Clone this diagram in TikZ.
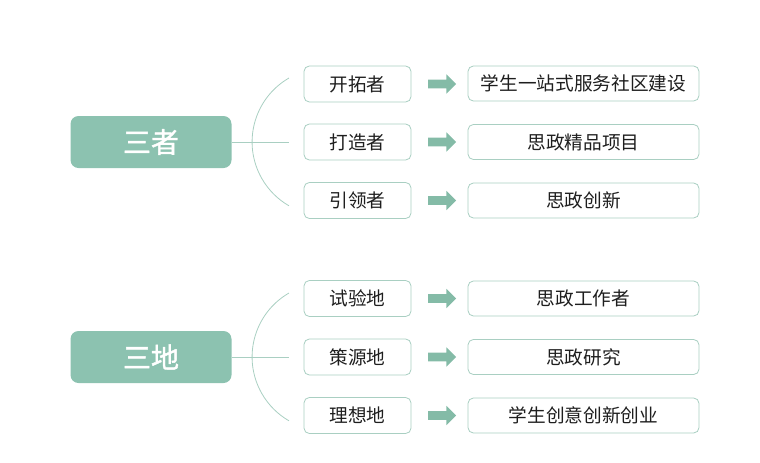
\documentclass[tikz,border=0pt]{standalone}
\usepackage{fontspec}
\usepackage{xcolor}
\usetikzlibrary{
    shapes.arrows,
    positioning,
    calc
}
\newfontfamily\cjk{Noto Sans CJK SC}
\newfontfamily\cjkbold[FakeBold=1.5]{Noto Sans CJK SC}
\definecolor{mint}{HTML}{8CC2B0}
\definecolor{mintarrow}{HTML}{84BBA7}
\definecolor{mintline}{HTML}{A9CFC2}
\definecolor{inkdark}{HTML}{1E1E1E}
\tikzset{
    % Topic box style
    topic/.style={
        rectangle,
        rounded corners=6pt,
        minimum width=120.75pt,
        minimum height=39pt,
        align=center,
        font=\cjkbold\fontsize{21}{24}\selectfont,
        text=white,
        fill=mint,
        draw=none
    },
    % Role box style
    role/.style={
        rectangle,
        rounded corners=4pt,
        minimum width=80.25pt,
        minimum height=27pt,
        align=center,
        font=\cjk\fontsize{14}{16}\selectfont,
        text=inkdark,
        draw=mintline,
        fill=white,
        line width=0.6pt
    },
    % Result box style
    result/.style={
        role,
        minimum width=173.25pt,
        minimum height=26.25pt
    },
    % Block arrow style
    pointer/.style={
        single arrow,
        fill=mintarrow,
        draw=none,
        inner xsep=0pt,
        inner ysep=3pt,
        minimum height=21pt,
        single arrow head extend=4.1pt,
        single arrow head indent=0pt
    },
    % Branch line style
    branch/.style={
        draw=mintline,
        line width=0.6pt
    }
}
\begin{document}
\begin{tikzpicture}[x=0.75pt, y=-0.75pt]
        \useasboundingbox (0,0) rectangle (760,462);

        % Three roles
        \node[topic] (sanzhe) at (151, 142) {三者};

        \node[role] (kaituo) at (357.5, 84) {开拓者};
        \node[role] (dazao) at (357.5, 142) {打造者};
        \node[role] (yinling) at (357.5, 200.5) {引领者};

        \node[pointer] (ar1) at (440, 84) {};
        \node[pointer] (ar2) at (440, 142) {};
        \node[pointer] (ar3) at (440, 200.5) {};

        \node[result] (shequ) at (583.5, 83.5) {学生一站式服务社区建设};
        \node[result] (jingpin) at (583.5, 142) {思政精品项目};
        \node[result] (chuangxin) at (583.5, 200.5) {思政创新};

        \coordinate (top1) at (289, 78);
        \coordinate (join1) at (289, 142);
        \draw[branch] (top1) arc[start angle=240, end angle=120, radius=73.8];
        \draw[branch] (sanzhe.east) -- (join1);

        % Three places
        \node[topic] (sandi) at (151, 357) {三地};

        \node[role] (shiyan) at (357.5, 298.5) {试验地};
        \node[role] (ceyuan) at (357.5, 357) {策源地};
        \node[role] (lixiang) at (357.5, 415.5) {理想地};

        \node[pointer] (ar4) at (440, 298.5) {};
        \node[pointer] (ar5) at (440, 357) {};
        \node[pointer] (ar6) at (440, 415.5) {};

        \node[result] (gongzuo) at (583.5, 298.5) {思政工作者};
        \node[result] (yanjiu) at (583.5, 357) {思政研究};
        \node[result] (chuangye) at (583.5, 415.5) {学生创意创新创业};

        \coordinate (top2) at (289, 293);
        \coordinate (join2) at (289, 357);
        \draw[branch] (top2) arc[start angle=240, end angle=120, radius=73.8];
        \draw[branch] (sandi.east) -- (join2);

    \end{tikzpicture}
\end{document}
